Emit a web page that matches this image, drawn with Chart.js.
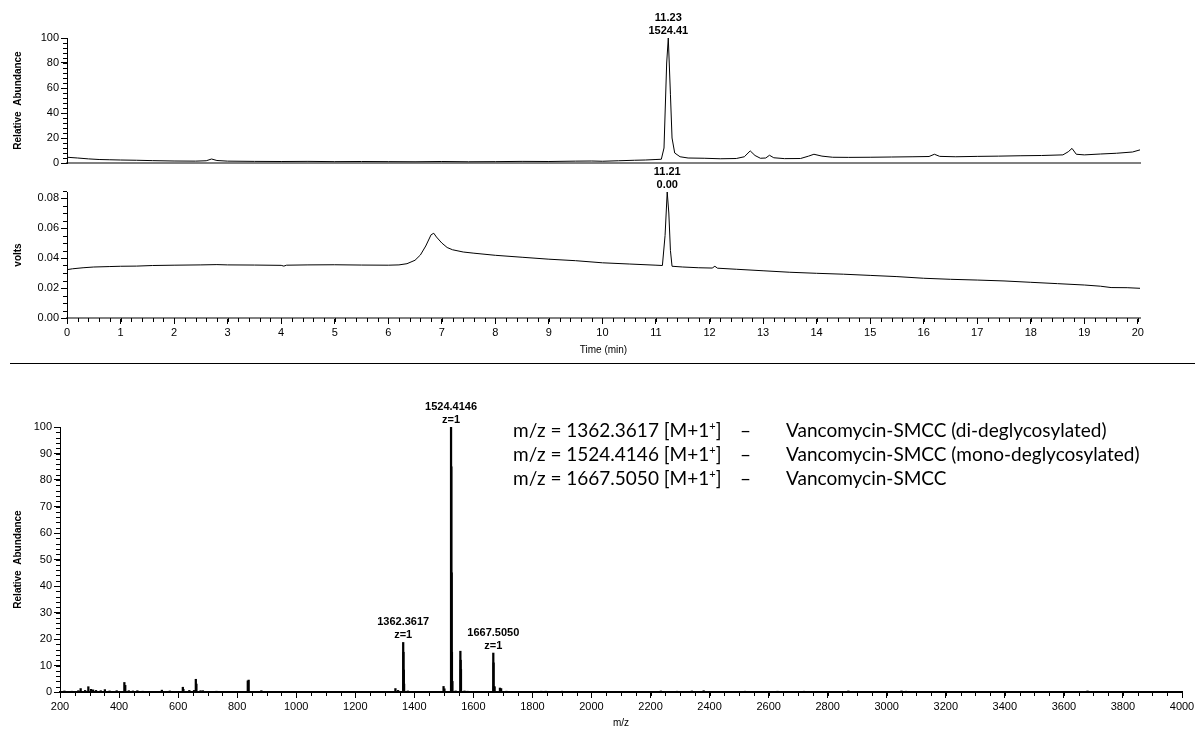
<!DOCTYPE html>
<html>
<head>
<meta charset="utf-8">
<script src="https://cdn.jsdelivr.net/npm/chart.js@4.4.1/dist/chart.umd.min.js"></script>
<style>
  body { margin: 0; background: #fff; width: 1195px; height: 731px; overflow: hidden; position: relative; }
  .box { position: absolute; left: 0; width: 1195px; }
  #sep { position: absolute; left: 10px; right: 0; top: 363px; height: 0; border-top: 1.5px solid #000; }
  .note { position: absolute; font-family: Lato, "Open Sans", sans-serif; font-size: 19px; color: #000; white-space: nowrap; line-height: 24px; }
  .note sup { font-size: 11px; vertical-align: 7px; line-height: 0; }
</style>
</head>
<body>
<div class="box" style="top:0;height:175px"><canvas id="tic"></canvas></div>
<div class="box" style="top:158px;height:202px"><canvas id="uv"></canvas></div>
<div id="sep"></div>
<div class="box" style="top:380px;height:351px"><canvas id="ms"></canvas></div>

<div class="note" style="left:513px;top:418px">m/z = 1362.3617 [M+1<sup>+</sup>]<br>m/z = 1524.4146 [M+1<sup>+</sup>]<br>m/z = 1667.5050 [M+1<sup>+</sup>]</div>
<div class="note" style="left:740px;top:418px">–<br>–<br>–</div>
<div class="note" style="left:786px;top:418px">Vancomycin-SMCC (di-deglycosylated)<br>Vancomycin-SMCC (mono-deglycosylated)<br>Vancomycin-SMCC</div>

<script>
// total ion chromatogram (top), relative abundance vs time
const ticTime = [0, 0.2, 0.4, 0.6, 0.8, 1.0, 1.3, 1.6, 2.0, 2.4, 2.6, 2.7, 2.8, 3.0, 3.5, 4.0, 4.5, 5.0, 5.5, 6.0,
  6.5, 7.0, 7.5, 8.0, 8.5, 9.0, 9.5, 9.8, 10.0, 10.3, 10.6, 10.8, 11.0, 11.1, 11.15, 11.2, 11.23, 11.27, 11.3, 11.35,
  11.45, 11.6, 11.9, 12.2, 12.5, 12.65, 12.76, 12.85, 12.95, 13.05, 13.12, 13.2, 13.4, 13.7, 13.85, 13.95, 14.1, 14.3, 14.6, 15.0,
  15.4, 15.8, 16.1, 16.2, 16.3, 16.6, 17.0, 17.4, 17.8, 18.2, 18.6, 18.7, 18.77, 18.85, 19.0, 19.3, 19.6, 19.9, 20.04];
const ticAbund = [4.6, 4.0, 3.3, 2.8, 2.6, 2.4, 2.2, 1.9, 1.6, 1.5, 1.8, 3.2, 2.0, 1.5, 1.3, 1.2, 1.3, 1.1, 1.2, 1.1,
  1.0, 1.2, 1.0, 1.1, 1.3, 1.2, 1.5, 1.6, 1.4, 1.8, 2.2, 2.4, 2.8, 3.0, 12, 80, 100, 55, 20, 8,
  5, 4, 3.8, 3.4, 3.6, 5, 9.7, 6, 3.8, 4, 6.2, 4.2, 3.5, 3.6, 5.5, 7, 5.5, 4.6, 4.5, 4.6,
  4.8, 5.0, 5.2, 7, 5.3, 5.0, 5.3, 5.5, 5.8, 6.0, 6.5, 9, 11.7, 7, 6.5, 7.2, 7.8, 8.8, 10.5];

// UV trace (middle), volts vs time
const uvTime = [0, 0.1, 0.3, 0.5, 0.8, 1.0, 1.3, 1.6, 2.0, 2.5, 2.8, 3.0, 3.5, 4.0, 4.05, 4.1, 4.5, 5.0, 5.5, 6.0,
  6.2, 6.35, 6.5, 6.6, 6.7, 6.8, 6.85, 6.9, 7.0, 7.1, 7.2, 7.4, 7.6, 8.0, 8.5, 9.0, 9.5, 10.0, 10.5, 11.0,
  11.12, 11.17, 11.21, 11.24, 11.27, 11.3, 11.5, 11.8, 12.05, 12.1, 12.15, 12.5, 13.0, 13.5, 14.0, 14.5, 15.0, 15.5, 16.0, 16.5,
  17.0, 17.5, 18.0, 18.5, 19.0, 19.3, 19.5, 19.8, 20.04];
const uvVolts = [0.0322, 0.0328, 0.0335, 0.0340, 0.0343, 0.0345, 0.0346, 0.0350, 0.0352, 0.0354, 0.0356, 0.0354, 0.0353, 0.0351, 0.0346, 0.0352, 0.0354, 0.0355, 0.0353, 0.0352,
  0.0354, 0.0362, 0.0385, 0.042, 0.048, 0.0555, 0.0565, 0.054, 0.050, 0.047, 0.0455, 0.044, 0.0432, 0.0418, 0.0405, 0.0392, 0.0382, 0.0368, 0.0360, 0.0352,
  0.0350, 0.055, 0.084, 0.070, 0.045, 0.0345, 0.0340, 0.0335, 0.0333, 0.0345, 0.0332, 0.0325, 0.0315, 0.0305, 0.0298, 0.0292, 0.0284, 0.0276, 0.0265, 0.0258,
  0.0253, 0.0247, 0.0238, 0.0229, 0.0220, 0.0212, 0.0203, 0.0202, 0.0198];

// mass spectrum (bottom)
const msMz = [215, 240, 262, 270, 285, 296, 305, 312, 322, 338, 352, 368, 392, 418, 421, 433, 447, 462, 480, 545,
  572, 616, 618, 638, 654, 660, 662, 676, 684, 730, 836, 839, 882, 925, 1180, 1290, 1336, 1345, 1362.36, 1363.36,
  1364.37, 1365.4, 1378, 1499, 1502, 1524.41, 1525.41, 1526.41, 1527.4, 1529, 1540, 1556, 1557, 1558, 1570, 1580, 1667.5, 1668.5, 1669.5, 1672,
  1690, 1694, 1712, 1830, 1845, 1900, 2235, 2290, 2340, 2380, 2520, 2630, 2720, 2870, 3050, 3065, 3680];
const msAbund = [0.4, 0.3, 0.5, 1.3, 0.6, 2.0, 1.0, 0.8, 0.6, 0.5, 0.9, 0.4, 0.5, 3.6, 2.5, 0.5, 0.4, 0.5, 0.3, 0.7,
  0.4, 1.8, 1.0, 0.6, 0.6, 4.8, 3.0, 0.5, 0.5, 0.3, 4.2, 4.5, 0.5, 0.2, 0.2, 0.2, 1.3, 0.6, 18.7, 15,
  8.3, 3, 0.4, 2.1, 1.2, 100, 85, 45, 15, 4, 0.4, 15.4, 12, 8.5, 0.4, 0.3, 14.7, 11, 2, 2,
  1.5, 1.3, 0.3, 0.3, 0.3, 0.3, 0.4, 0.3, 0.4, 0.5, 0.3, 0.3, 0.3, 0.4, 0.4, 0.3, 0.4];

// peak annotations
const ticLabels = [{ x: 11.23, y: 100, lines: ['11.23', '1524.41'] }];
const uvLabels = [{ x: 11.21, y: 0.084, lines: ['11.21', '0.00'] }];
const msLabels = [
  { x: 1362.36, y: 18.7, lines: ['1362.3617', 'z=1'] },
  { x: 1524.41, y: 100, lines: ['1524.4146', 'z=1'] },
  { x: 1667.5, y: 14.7, lines: ['1667.5050', 'z=1'] }
];

Chart.defaults.font.family = '"Liberation Sans", Arial, sans-serif';
Chart.defaults.font.size = 11;
Chart.defaults.color = '#000';
Chart.defaults.animation = false;

// small ticks between the labelled ones
const minorTicks = {
  id: 'minorTicks',
  afterDraw(chart, args, opts) {
    const ctx = chart.ctx;
    ctx.save();
    ctx.strokeStyle = '#000';
    ctx.lineWidth = 1;
    ctx.beginPath();
    ['x', 'y'].forEach(id => {
      const step = opts[id];
      if (!step) return;
      const s = chart.scales[id];
      const n = Math.round((s.max - s.min) / step);
      for (let i = 0; i <= n; i++) {
        const p = Math.round(s.getPixelForValue(s.min + i * step)) + 0.5;
        if (id === 'x') { ctx.moveTo(p, s.top); ctx.lineTo(p, s.top + 4); }
        else { ctx.moveTo(s.right, p); ctx.lineTo(s.right - 4, p); }
      }
    });
    ctx.stroke();
    ctx.restore();
  }
};

const peakLabels = {
  id: 'peakLabels',
  afterDatasetsDraw(chart, args, opts) {
    if (!opts.items) return;
    const ctx = chart.ctx;
    ctx.save();
    ctx.font = 'bold 11px "Liberation Sans", Arial, sans-serif';
    ctx.fillStyle = '#000';
    ctx.textAlign = 'center';
    ctx.textBaseline = 'alphabetic';
    opts.items.forEach(it => {
      const x = chart.scales.x.getPixelForValue(it.x);
      const y = chart.scales.y.getPixelForValue(it.y);
      ctx.fillText(it.lines[0], x, y - 17);
      ctx.fillText(it.lines[1], x, y - 4);
    });
    ctx.restore();
  }
};

function yAxis(min, max, step, title, width, fmt) {
  return {
    type: 'linear', min: min, max: max,
    afterFit: s => { s.width = width; s.paddingTop = 0; s.paddingBottom = 0; },
    border: { color: '#000', width: 1 },
    grid: { drawOnChartArea: false, tickLength: 6, tickColor: '#000' },
    ticks: { stepSize: step, includeBounds: false, padding: 2, callback: fmt || (v => v) },
    title: { display: true, text: title, font: { size: 10, weight: 'bold' }, padding: { top: 12, bottom: 0 } }
  };
}

function timeAxis(showTicks, height) {
  return {
    type: 'linear', min: 0, max: 20.04,
    afterFit: s => { s.height = height; s.paddingLeft = 0; s.paddingRight = 0; },
    border: { color: '#808080', width: 2 },
    grid: { drawOnChartArea: false, drawTicks: showTicks, tickLength: 6, tickColor: '#000' },
    ticks: { display: showTicks, stepSize: 1, includeBounds: false, padding: 2, maxRotation: 0, callback: v => v },
    title: { display: showTicks, text: 'Time (min)', font: { size: 10 }, padding: { top: 0, bottom: 4 } }
  };
}

new Chart(document.getElementById('tic'), {
  type: 'line',
  data: {
    datasets: [{
      data: ticTime.map((t, i) => ({ x: t, y: ticAbund[i] })),
      borderColor: '#000', borderWidth: 1, pointRadius: 0, tension: 0, fill: false
    }]
  },
  options: {
    responsive: true, maintainAspectRatio: false,
    layout: { padding: { top: 38, right: 55, left: 0, bottom: 0 } },
    plugins: { legend: { display: false }, tooltip: { enabled: false },
      minorTicks: { y: 4 }, peakLabels: { items: ticLabels } },
    scales: { x: timeAxis(false, 12), y: yAxis(0, 100, 20, 'Relative  Abundance', 67) }
  },
  plugins: [minorTicks, peakLabels]
});

new Chart(document.getElementById('uv'), {
  type: 'line',
  data: {
    datasets: [{
      data: uvTime.map((t, i) => ({ x: t, y: uvVolts[i] })),
      borderColor: '#000', borderWidth: 1, pointRadius: 0, tension: 0, fill: false
    }]
  },
  options: {
    responsive: true, maintainAspectRatio: false,
    layout: { padding: { top: 34, right: 55, left: 0, bottom: 0 } },
    plugins: { legend: { display: false }, tooltip: { enabled: false },
      minorTicks: { x: 0.2, y: 0.005 }, peakLabels: { items: uvLabels } },
    scales: { x: timeAxis(true, 42), y: yAxis(0, 0.084, 0.02, 'volts', 67, v => v.toFixed(2)) }
  },
  plugins: [minorTicks, peakLabels]
});

new Chart(document.getElementById('ms'), {
  type: 'bar',
  data: {
    datasets: [{
      data: msMz.map((m, i) => ({ x: m, y: msAbund[i] })),
      backgroundColor: '#000', borderWidth: 0, barThickness: 1.6, grouped: false
    }]
  },
  options: {
    responsive: true, maintainAspectRatio: false,
    layout: { padding: { top: 47, right: 13, left: 0, bottom: 0 } },
    plugins: { legend: { display: false }, tooltip: { enabled: false },
      minorTicks: { x: 50, y: 2 }, peakLabels: { items: msLabels } },
    scales: {
      x: {
        type: 'linear', min: 200, max: 4000, offset: false,
        afterFit: s => { s.height = 39; s.paddingLeft = 0; s.paddingRight = 0; },
        border: { color: '#000', width: 2 },
        grid: { drawOnChartArea: false, tickLength: 6, tickColor: '#000', offset: false },
        ticks: { stepSize: 200, includeBounds: false, padding: 2, maxRotation: 0, autoSkip: false, callback: v => v },
        title: { display: true, text: 'm/z', font: { size: 10 }, padding: { top: 0, bottom: 2 } }
      },
      y: yAxis(0, 100, 10, 'Relative  Abundance', 60)
    }
  },
  plugins: [minorTicks, peakLabels]
});
</script>
</body>
</html>
